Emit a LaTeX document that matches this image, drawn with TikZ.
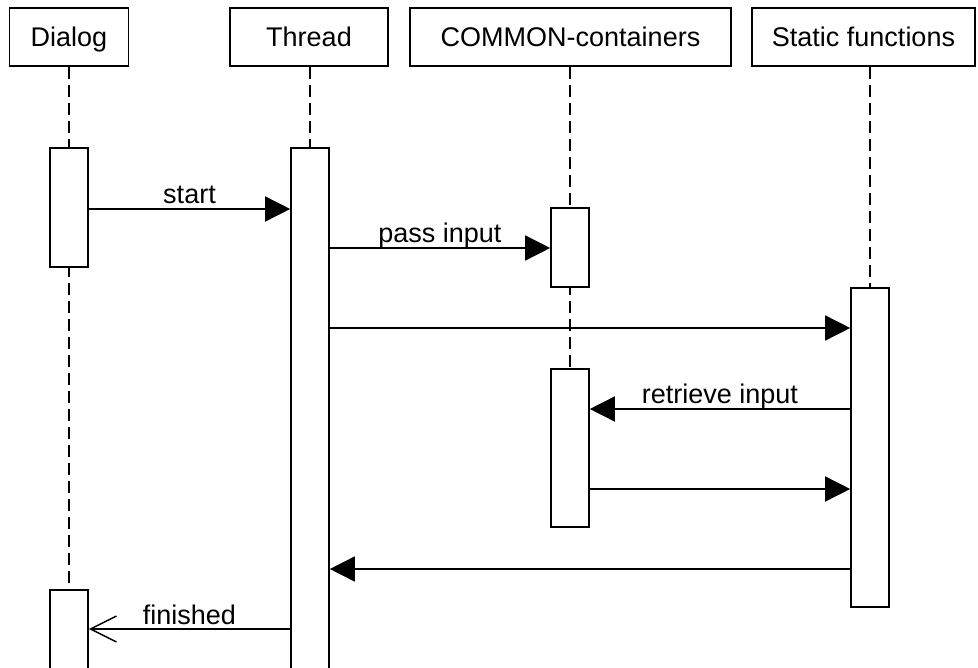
\documentclass[tikz,border=0pt]{standalone}
\usepackage{fontspec}
\setmainfont{Liberation Sans}
\usetikzlibrary{arrows.meta}
\begin{document}
\begin{tikzpicture}[x=1pt,y=-1pt,
  every node/.style={font=\fontsize{27}{30}\selectfont},
  head/.style={draw, line width=1.6pt, minimum height=58pt, inner sep=0pt,
    text height=20pt, text depth=1pt},
  act/.style={draw, fill=white, line width=1.6pt, minimum width=38pt, inner sep=0pt},
  life/.style={line width=1.5pt, dash pattern=on 12pt off 6pt},
  msg/.style={line width=1.5pt, -{Triangle[length=25pt,width=25pt]}},
  reply/.style={line width=1.5pt, -{Straight Barb[length=26pt,width=26pt,line width=1.5pt]}},
  lbl/.style={midway, anchor=base, yshift=5pt, inner sep=0pt}]
  \useasboundingbox (0,0) rectangle (978,668);
  \clip (0,0) rectangle (978,668);

  % lifeline heads
  \node[head, minimum width=119pt] (dh) at (69,37) {Dialog};
  \node[head, minimum width=158pt] (th) at (309,37) {Thread};
  \node[head, minimum width=321pt] (ch) at (570.5,37) {COMMON-containers};
  \node[head, minimum width=223pt] (sh) at (863.5,37) {Static functions};

  % dashed lifelines, drawn first so activation bars cover them
  \coordinate (dl) at (69,590);
  \coordinate (tl) at (310,148);
  \coordinate (cl) at (570,369);
  \coordinate (sl) at (870,288);
  \draw[life] (dh.south -| dl) -- (dl);
  \draw[life] (th.south -| tl) -- (tl);
  \draw[life] (ch.south -| cl) -- (cl);
  \draw[life] (sh.south -| sl) -- (sl);

  % activation bars
  \node[act, minimum height=119pt] (d1) at (69,207.5) {};
  \node[act, minimum height=120pt] (d2) at (69,650) {};
  \node[act, minimum height=562pt] (t)  at (310,429) {};
  \node[act, minimum height=79pt]  (c1) at (570,247.5) {};
  \node[act, minimum height=158pt] (c2) at (570,448) {};
  \node[act, minimum height=319pt] (s)  at (870,447.5) {};

  % messages
  \draw[msg] (d1.east |- 0,209) -- node[lbl] {start} (t.west |- 0,209);
  \draw[msg] (t.east |- 0,248) -- node[lbl] {pass input} (c1.west |- 0,248);
  \draw[msg] (t.east |- 0,328) -- (s.west |- 0,328);
  \draw[msg] (s.west |- 0,409) -- node[lbl] {retrieve input} (c2.east |- 0,409);
  \draw[msg] (c2.east |- 0,489) -- (s.west |- 0,489);
  \draw[msg] (s.west |- 0,569) -- (t.east |- 0,569);
  \draw[reply] (t.west |- 0,629) -- node[lbl] {finished} (d2.east |- 0,629);
\end{tikzpicture}
\end{document}
